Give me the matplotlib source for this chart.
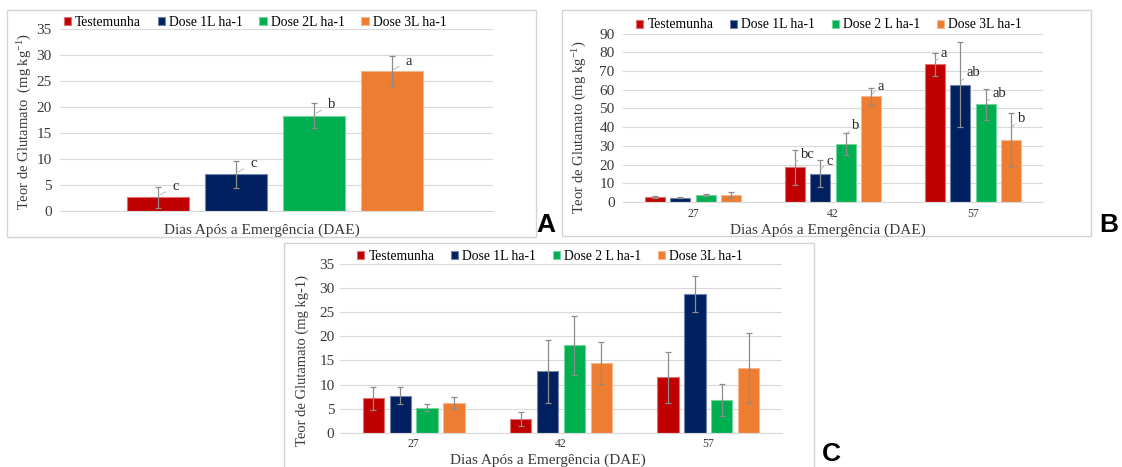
import matplotlib
matplotlib.use("Agg")
import matplotlib.pyplot as plt
from matplotlib.patches import Rectangle
import numpy as np

plt.rcParams['font.family'] = ['Liberation Serif', 'DejaVu Serif']
plt.rcParams['mathtext.fontset'] = 'custom'
plt.rcParams['mathtext.rm'] = 'Liberation Serif'
plt.rcParams['mathtext.it'] = 'Liberation Serif:italic'

# ---------------- data ----------------
series_A = ['Testemunha', 'Dose 1L ha-1', 'Dose 2L ha-1', 'Dose 3L ha-1']
series_BC = ['Testemunha', 'Dose 1L ha-1', 'Dose 2 L ha-1', 'Dose 3L ha-1']
colors = ['#C00000', '#002060', '#00B050', '#ED7D31']
days = ['27', '42', '57']

# Panel A (single evaluation)
vals_A = [2.6, 7.1, 18.3, 26.9]
err_A = [2.1, 2.6, 2.4, 2.95]
letters_A = ['c', 'c', 'b', 'a']
letters_A_y = [4.7, 9.1, 20.4, 28.8]

# Panel B (series x days)
vals_B = {
    'Testemunha':    [2.7, 18.5, 73.6],
    'Dose 1L ha-1':  [2.3, 15.2, 62.7],
    'Dose 2 L ha-1': [3.9, 31.0, 52.2],
    'Dose 3L ha-1':  [3.9, 56.5, 33.3],
}
err_B = {
    'Testemunha':    [0.5, 9.3, 6.3],
    'Dose 1L ha-1':  [0.3, 7.4, 22.6],
    'Dose 2 L ha-1': [0.6, 6.1, 8.4],
    'Dose 3L ha-1':  [1.2, 4.6, 14.3],
}
letters_B = {
    'Testemunha':    ['', 'bc', 'a'],
    'Dose 1L ha-1':  ['', 'c', 'ab'],
    'Dose 2 L ha-1': ['', 'b', 'ab'],
    'Dose 3L ha-1':  ['', 'a', 'b'],
}
letters_B_y = {
    'Testemunha':    [0, 25.5, 79.5],
    'Dose 1L ha-1':  [0, 21.9, 69.0],
    'Dose 2 L ha-1': [0, 40.8, 58.0],
    'Dose 3L ha-1':  [0, 62.0, 44.4],
}

# Panel C (series x days)
vals_C = {
    'Testemunha':    [7.1, 2.8, 11.5],
    'Dose 1L ha-1':  [7.7, 12.7, 28.8],
    'Dose 2 L ha-1': [5.2, 18.1, 6.8],
    'Dose 3L ha-1':  [6.2, 14.5, 13.4],
}
err_C = {
    'Testemunha':    [2.4, 1.4, 5.25],
    'Dose 1L ha-1':  [1.75, 6.5, 3.75],
    'Dose 2 L ha-1': [0.8, 6.1, 3.3],
    'Dose 3L ha-1':  [1.2, 4.3, 7.3],
}

W, H = 1122, 467
fig = plt.figure(figsize=(W / 100, H / 100), dpi=100)


def fx(px):
    return px / W


def fy(py):
    return 1 - py / H


def lighten(c, f=0.45):
    rgb = np.array(matplotlib.colors.to_rgb(c))
    return tuple(rgb + (1 - rgb) * f)


# panel frames
for (x0, y0, x1, y1) in [(7, 10, 536, 237), (562, 10, 1091, 236), (284, 243, 814, 470)]:
    fig.patches.append(Rectangle((fx(x0), fy(y1)), fx(x1 - x0), (y1 - y0) / H,
                                 transform=fig.transFigure, fill=False,
                                 edgecolor='#D4D4D4', lw=1.0, zorder=0))

ERRC = '#8C8C8C'
GRID = '#D9D9D9'
TXT = '#3A3A3A'


def style_ax(ax, ymax, step, ytick_size=11, pad=6):
    ax.set_ylim(0, ymax)
    ax.set_yticks(np.arange(0, ymax + 0.1, step))
    ax.yaxis.grid(True, color=GRID, lw=0.8)
    ax.set_axisbelow(True)
    for s in ['top', 'right', 'left']:
        ax.spines[s].set_visible(False)
    ax.spines['bottom'].set_color(GRID)
    ax.spines['bottom'].set_linewidth(0.8)
    ax.tick_params(axis='both', length=0, colors=TXT)
    ax.tick_params(axis='y', labelsize=ytick_size, pad=pad)


def add_letter(ax, x, ylab, txt, dx, ymax):
    ax.annotate(txt, xy=(x + dx * 0.15, ylab - ymax * 0.045),
                xytext=(x + dx, ylab), textcoords='data',
                ha='left', va='center', fontsize=10.5, color='#262626',
                arrowprops=dict(arrowstyle='-', color='#BFBFBF', lw=0.8,
                                shrinkA=3, shrinkB=0))


legend_kw = dict(loc='center', ncol=4, frameon=False, fontsize=9.8,
                 handlelength=0.55, handleheight=0.55, handletextpad=0.3,
                 columnspacing=1.2, borderpad=0)

# ---------------- Panel A ----------------
axA = fig.add_axes([fx(60), fy(211), fx(433), (211 - 29) / H])
wA, stepA = 0.2, 0.25
for i, name in enumerate(series_A):
    x = (i - 1.5) * stepA
    axA.bar(x, vals_A[i], width=wA, color=colors[i],
            edgecolor=lighten(colors[i]), lw=0.8, label=name, zorder=2)
    axA.errorbar(x, vals_A[i], yerr=err_A[i], fmt='none', ecolor=ERRC,
                 elinewidth=0.9, capsize=2.5, capthick=0.9, zorder=3)
    add_letter(axA, x, letters_A_y[i], letters_A[i], 0.045, 35)
axA.set_xlim(-0.69, 0.70)
axA.set_xticks([])
style_ax(axA, 35, 5)
hA, lA = axA.get_legend_handles_labels()
fig.legend(hA, lA, bbox_to_anchor=(fx(255), fy(22)), **legend_kw)
fig.text(fx(25), fy(121), r'Teor de Glutamato  (mg kg$^{-1}$)', rotation=90,
         ha='center', va='center', fontsize=10.5, color=TXT)
fig.text(fx(262), fy(230), 'Dias Após a Emergência (DAE)', ha='center',
         va='center', fontsize=11, color=TXT)

# ---------------- Panel B ----------------
axB = fig.add_axes([fx(623), fy(202), fx(420), (202 - 33.7) / H])
wB, stepB = 0.143, 0.183
xcat = np.arange(len(days))
for i, name in enumerate(series_BC):
    key = list(vals_B.keys())[i]
    x = xcat + (i - 1.5) * stepB
    axB.bar(x, vals_B[key], width=wB, color=colors[i],
            edgecolor=lighten(colors[i]), lw=0.8, label=name, zorder=2)
    axB.errorbar(x, vals_B[key], yerr=err_B[key], fmt='none', ecolor=ERRC,
                 elinewidth=0.9, capsize=2.5, capthick=0.9, zorder=3)
    for j in range(len(days)):
        if letters_B[key][j]:
            add_letter(axB, x[j], letters_B_y[key][j], letters_B[key][j], 0.045, 90)
axB.set_xlim(-0.5, 2.5)
axB.set_xticks(xcat)
axB.set_xticklabels(days, fontsize=8.5)
axB.tick_params(axis='x', pad=4)
style_ax(axB, 90, 10)
hB, lB = axB.get_legend_handles_labels()
fig.legend(hB, lB, bbox_to_anchor=(fx(829), fy(25)), **legend_kw)
fig.text(fx(580), fy(127), r'Teor de Glutamato (mg kg$^{-1}$)', rotation=90,
         ha='center', va='center', fontsize=10.5, color=TXT)
fig.text(fx(828), fy(230), 'Dias Após a Emergência (DAE)', ha='center',
         va='center', fontsize=11, color=TXT)

# ---------------- Panel C ----------------
axC = fig.add_axes([fx(340), fy(432.7), fx(442), (432.7 - 264) / H])
wC, stepC = 0.145, 0.182
for i, name in enumerate(series_BC):
    key = list(vals_C.keys())[i]
    x = xcat + (i - 1.5) * stepC
    axC.bar(x, vals_C[key], width=wC, color=colors[i],
            edgecolor=lighten(colors[i]), lw=0.8, label=name, zorder=2)
    axC.errorbar(x, vals_C[key], yerr=err_C[key], fmt='none', ecolor=ERRC,
                 elinewidth=0.9, capsize=2.5, capthick=0.9, zorder=3)
axC.set_xlim(-0.5, 2.5)
axC.set_xticks(xcat)
axC.set_xticklabels(days, fontsize=8.5)
axC.tick_params(axis='x', pad=4)
style_ax(axC, 35, 5, pad=4)
hC, lC = axC.get_legend_handles_labels()
fig.legend(hC, lC, bbox_to_anchor=(fx(550), fy(256)), **legend_kw)
fig.text(fx(302), fy(360), 'Teor de Glutamato (mg kg-1)', rotation=90,
         ha='center', va='center', fontsize=10.5, color=TXT)
fig.text(fx(548), fy(460), 'Dias Após a Emergência (DAE)', ha='center',
         va='center', fontsize=11, color=TXT)

# panel letters
for txt, px, py in [('A', 546, 237), ('B', 1109, 237), ('C', 831, 466)]:
    fig.text(fx(px), fy(py), txt, ha='center', va='bottom', fontsize=19,
             fontweight='bold', family='Liberation Sans', color='black')

fig.savefig('out.png', dpi=100, facecolor='white')
